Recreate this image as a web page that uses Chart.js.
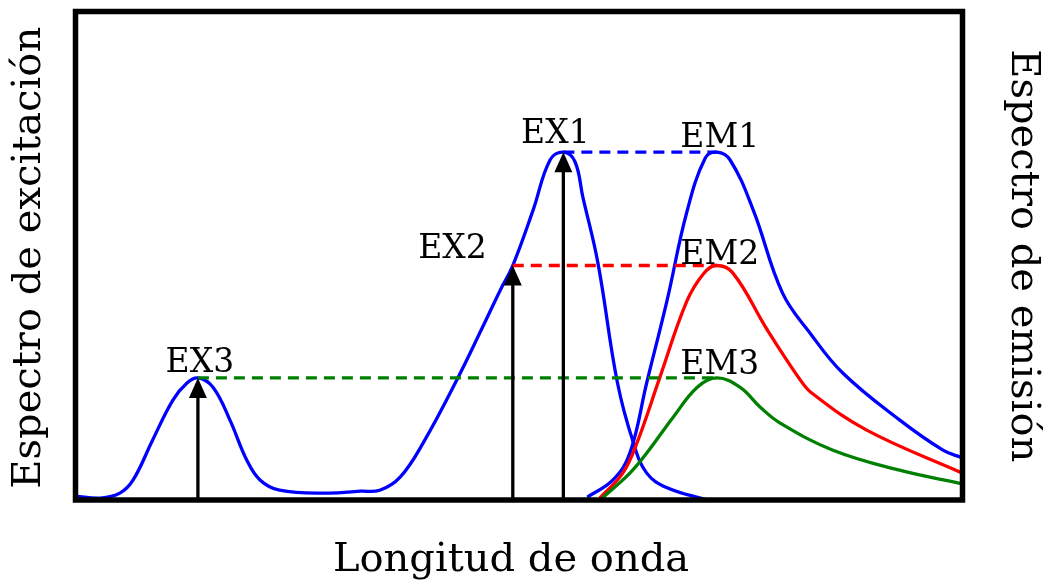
<!DOCTYPE html>
<html>
<head>
<meta charset="utf-8">
<script src="https://cdn.jsdelivr.net/npm/chart.js@4/dist/chart.umd.min.js"></script>
<style>
  html, body { margin: 0; padding: 0; background: #fff; }
  #wrap { width: 1043px; height: 582px; position: relative; }
</style>
</head>
<body>
<div id="wrap"><canvas id="spectra"></canvas></div>
<script>
// Excitation spectrum (blue, left axis)
const exX = [0, 2.8, 5.0, 6.5, 8.7, 11.0, 12.6, 13.8, 15.5, 17.4, 19.3, 20.8, 23.0, 28.4, 32.1, 34.3, 36.6, 39.2, 43.0, 45.9, 47.9, 49.3, 51.6, 53.5, 55.0, 56.3, 57.2, 58.9, 61.1, 62.9, 64.4, 66.7, 71.2];
const exY = [0.8, 0.4, 1.4, 4.1, 12.3, 20.5, 24.0, 25.0, 23.1, 16.4, 8.2, 4.1, 2.0, 1.4, 1.8, 2.0, 4.7, 11.7, 24.6, 35.4, 43.0, 48.0, 59.4, 69.6, 71.2, 69.3, 62.0, 48.5, 24.0, 11.7, 5.5, 2.5, 0];

// Emission spectra for each excitation wavelength
const em1X = [57.7, 60.6, 62.5, 64.4, 66.7, 68.9, 71.0, 72.3, 73.8, 76.4, 79.7, 82.8, 86.5, 92.9, 97.8, 100];
const em1Y = [0.6, 4.1, 9.6, 24.0, 40.9, 58.8, 70.0, 71.2, 69.6, 59.4, 42.4, 34.2, 26.0, 16.4, 10.2, 8.6];
const em2X = [59.1, 61.7, 63.3, 65.9, 68.9, 70.8, 72.2, 74.1, 78.0, 81.7, 83.0, 89.2, 100];
const em2Y = [0.4, 5.5, 11.7, 25.2, 40.6, 46.3, 48.0, 46.5, 34.8, 24.6, 21.9, 14.3, 5.5];
const em3X = [59.4, 62.5, 64.4, 67.4, 70.1, 72.3, 74.9, 77.2, 79.4, 85.4, 92.9, 100];
const em3Y = [0.4, 5.5, 9.6, 17.0, 23.1, 25.0, 23.1, 19.0, 15.8, 10.2, 6.1, 3.3];

// Excitation wavelengths (arrows) and the emission peak they map to
const exNames = ['EX1', 'EX2', 'EX3'];
const emNames = ['EM1', 'EM2', 'EM3'];
const exPos = [55.0, 49.3, 13.8];
const levels = [71.2, 48.0, 25.0];
const emPeakX = 72.3;
const levelColors = ['#0000ff', '#ff0000', '#008000'];

const pts = (xs, ys) => xs.map((x, i) => ({ x: x, y: ys[i] }));

const curve = (data, color) => ({
    data: data,
    borderColor: color,
    borderWidth: 3.3,
    pointRadius: 0,
    tension: 0.4,
    fill: false
});

const dashed = (i) => ({
    data: [{ x: exPos[i], y: levels[i] }, { x: emPeakX, y: levels[i] }],
    borderColor: levelColors[i],
    borderWidth: 3.3,
    borderDash: [11, 7],
    pointRadius: 0,
    fill: false
});

const SERIF = '"DejaVu Serif", "Liberation Serif", serif';

// Arrows, peak labels, frame and axis titles
const annotate = {
    id: 'annotate',
    afterDatasetsDraw(chart) {
        const { ctx, chartArea: a, scales: { x, y } } = chart;
        ctx.save();

        // arrows from the baseline up to each excitation level
        ctx.fillStyle = '#000';
        ctx.strokeStyle = '#000';
        ctx.lineWidth = 3.3;
        exPos.forEach((xv, i) => {
            const px = x.getPixelForValue(xv);
            const top = y.getPixelForValue(levels[i]);
            ctx.beginPath();
            ctx.moveTo(px, a.bottom);
            ctx.lineTo(px, top + 15);
            ctx.stroke();
            ctx.beginPath();
            ctx.moveTo(px, top);
            ctx.lineTo(px - 9, top + 20);
            ctx.lineTo(px + 9, top + 20);
            ctx.closePath();
            ctx.fill();
        });

        // peak labels
        ctx.font = '33px ' + SERIF;
        ctx.textBaseline = 'alphabetic';
        const ex = exNames.map((n, i) => ({ n: n, px: x.getPixelForValue(exPos[i]), py: y.getPixelForValue(levels[i]) }));
        ctx.textAlign = 'center';
        ctx.fillText(ex[0].n, ex[0].px - 8, ex[0].py - 9);
        ctx.fillText(ex[2].n, ex[2].px + 2, ex[2].py - 6);
        ctx.textAlign = 'right';
        ctx.fillText(ex[1].n, ex[1].px - 26, ex[1].py - 8);
        ctx.textAlign = 'center';
        const emOff = [-5, -2, -4];
        emNames.forEach((n, i) => {
            ctx.fillText(n, x.getPixelForValue(emPeakX) + 3, y.getPixelForValue(levels[i]) + emOff[i]);
        });

        // frame
        ctx.lineWidth = 5.5;
        ctx.strokeRect(a.left, a.top, a.right - a.left, a.bottom - a.top);

        // axis titles
        ctx.font = '40px ' + SERIF;
        ctx.textAlign = 'center';
        ctx.textBaseline = 'middle';
        ctx.fillText('Longitud de onda', (a.left + a.right) / 2 - 8, 561);
        const midY = (a.top + a.bottom) / 2;
        ctx.save();
        ctx.translate(30, midY + 2);
        ctx.rotate(-Math.PI / 2);
        ctx.fillText('Espectro de excitación', 0, 0);
        ctx.restore();
        ctx.save();
        ctx.translate(1022, midY);
        ctx.rotate(Math.PI / 2);
        ctx.fillText('Espectro de emisión', 0, 0);
        ctx.restore();

        ctx.restore();
    }
};

new Chart(document.getElementById('spectra'), {
    type: 'line',
    data: {
        datasets: [
            dashed(2), dashed(1), dashed(0),
            curve(pts(em3X, em3Y), '#008000'),
            curve(pts(em2X, em2Y), '#ff0000'),
            curve(pts(em1X, em1Y), '#0000ff'),
            curve(pts(exX, exY), '#0000ff')
        ]
    },
    options: {
        responsive: true,
        maintainAspectRatio: false,
        animation: false,
        layout: { padding: { left: 75.5, right: 80.5, top: 11.5, bottom: 82 } },
        scales: {
            x: { type: 'linear', min: 0, max: 100, display: false },
            y: { min: 0, max: 100, display: false }
        },
        plugins: { legend: { display: false }, tooltip: { enabled: false } }
    },
    plugins: [annotate]
});
</script>
</body>
</html>
